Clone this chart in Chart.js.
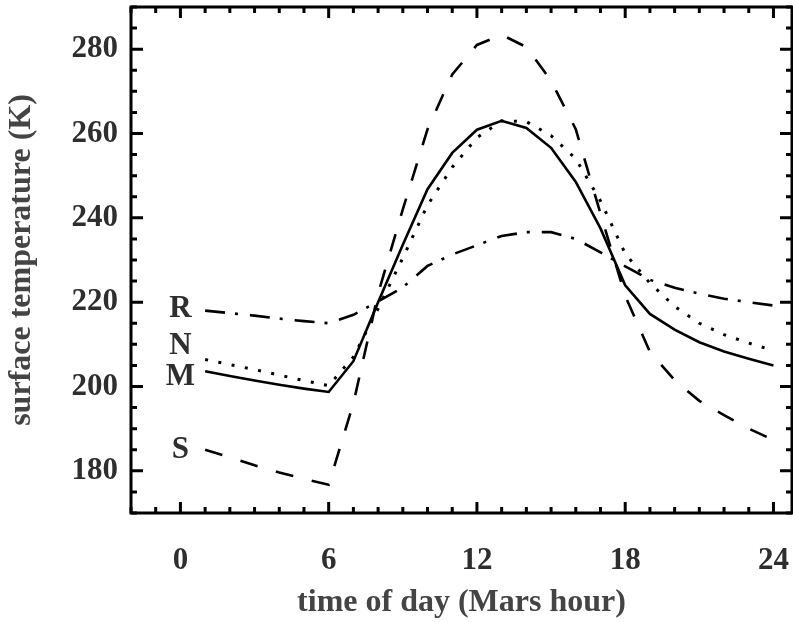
<!DOCTYPE html>
<html>
<head>
<meta charset="utf-8">
<script src="https://cdn.jsdelivr.net/npm/chart.js@4/dist/chart.umd.min.js"></script>
<style>
html,body{margin:0;padding:0;background:#fff;}
#wrap{width:793px;height:622px;position:relative;}
</style>
</head>
<body>
<div id="wrap"><canvas id="c" width="793" height="622"></canvas></div>
<script>
// ---- data ----
const hours = [1,2,3,4,5,6,7,8,9,10,11,12,13,14,15,16,17,18,19,20,21,22,23,24];
const seriesM = [203.6,202.5,201.4,200.4,199.5,198.7,206.0,220.0,233.6,246.8,255.4,260.9,263.0,261.3,256.6,248.5,237.5,224.0,217.2,213.5,210.5,208.3,206.6,205.0];
const seriesN = [206.4,205.2,204.0,202.7,201.4,200.2,207.0,218.5,230.5,243.0,252.0,259.0,263.0,262.8,259.5,254.0,244.0,231.5,224.5,219.0,215.0,212.3,210.3,208.5];
const seriesS = [185.0,183.2,181.3,179.6,178.1,176.7,196.0,222.0,242.0,261.0,274.0,281.0,283.4,280.5,272.5,261.0,241.0,221.5,208.2,201.5,196.6,193.2,190.0,187.3];
const seriesR = [218.0,217.4,216.8,216.1,215.5,215.0,217.0,220.2,223.5,228.6,231.3,233.5,235.7,236.6,236.6,235.0,231.8,228.5,225.3,223.4,222.0,220.8,220.0,219.2];
const seriesNames = ['M','N','S','R'];
const xTickLabels = [0,6,12,18,24];
const yTickLabels = [180,200,220,240,260,280];
// label anchors (hour, temperature) for the series letters
const letterAnchors = [
  {name:'R', x:0, y:218.6},
  {name:'N', x:0, y:209.9},
  {name:'M', x:0, y:202.6},
  {name:'S', x:0, y:185.3}
];

const FONT = '"Liberation Serif","Times New Roman",serif';
const TXT = '#2e2e2e';

function pts(arr){ return hours.map((h,i)=>({x:h,y:arr[i]})); }

const framePlugin = {
  id:'frame',
  afterDraw(chart){
    const ctx = chart.ctx, a = chart.chartArea;
    const xs = chart.scales.x, ys = chart.scales.y;
    ctx.save();
    ctx.strokeStyle = '#000';
    ctx.lineWidth = 3;
    ctx.lineCap = 'butt';
    ctx.strokeRect(a.left, a.top, a.right - a.left, a.bottom - a.top);
    ctx.beginPath();
    for (let v = Math.ceil(xs.min); v <= xs.max; v++) {
      const px = xs.getPixelForValue(v);
      const len = (v % 6 === 0) ? 11 : 6;
      ctx.moveTo(px, a.bottom); ctx.lineTo(px, a.bottom - len);
      ctx.moveTo(px, a.top); ctx.lineTo(px, a.top + len);
    }
    for (let v = Math.ceil(ys.min/5)*5; v <= ys.max; v += 5) {
      const py = ys.getPixelForValue(v);
      const len = (v % 20 === 0) ? 12 : 6;
      ctx.moveTo(a.left, py); ctx.lineTo(a.left + len, py);
      ctx.moveTo(a.right, py); ctx.lineTo(a.right - len, py);
    }
    ctx.stroke();
    // series letters
    ctx.fillStyle = TXT;
    ctx.font = 'bold 31px ' + FONT;
    ctx.textAlign = 'center';
    ctx.textBaseline = 'middle';
    letterAnchors.forEach(l => {
      ctx.fillText(l.name, xs.getPixelForValue(l.x), ys.getPixelForValue(l.y) + 1);
    });
    ctx.restore();
  }
};

new Chart(document.getElementById('c'), {
  type:'line',
  data:{
    datasets:[
      {label:seriesNames[0], data:pts(seriesM), borderColor:'#000', borderWidth:2.6, pointRadius:0, fill:false, tension:0},
      {label:seriesNames[1], data:pts(seriesN), borderColor:'#000', borderWidth:3, borderDash:[3,10.5], pointRadius:0, fill:false, tension:0},
      {label:seriesNames[2], data:pts(seriesS), borderColor:'#000', borderWidth:2.6, borderDash:[18,19], pointRadius:0, fill:false, tension:0},
      {label:seriesNames[3], data:pts(seriesR), borderColor:'#000', borderWidth:2.6, borderDash:[20,10,3,12], pointRadius:0, fill:false, tension:0}
    ]
  },
  options:{
    responsive:false,
    animation:false,
    events:[],
    layout:{padding:{left:0,right:1,top:7,bottom:0}},
    plugins:{legend:{display:false}, tooltip:{enabled:false}},
    scales:{
      x:{
        type:'linear', min:-2, max:24.75,
        afterBuildTicks(s){ s.ticks = xTickLabels.map(v=>({value:v})); },
        afterFit(s){ s.height = 109; s.paddingLeft = 0; s.paddingRight = 0; },
        grid:{display:false, drawTicks:false},
        border:{display:false},
        ticks:{
          autoSkip:false, maxRotation:0, padding:29,
          color:TXT, font:{family:FONT, size:31, weight:'bold'},
          callback:(v)=> String(v)
        },
        title:{display:true, text:'time of day (Mars hour)', color:'#444',
          font:{family:FONT, size:32, weight:'bold'}, padding:{top:1,bottom:0}}
      },
      y:{
        type:'linear', min:170, max:290,
        afterBuildTicks(s){ s.ticks = yTickLabels.map(v=>({value:v})); },
        afterFit(s){ s.width = 131; s.paddingTop = 0; s.paddingBottom = 0; },
        grid:{display:false, drawTicks:false},
        border:{display:false},
        ticks:{
          autoSkip:false, padding:13,
          color:TXT, font:{family:FONT, size:31, weight:'bold'},
          callback:(v)=> String(v)
        },
        title:{display:true, text:'surface temperature (K)', color:'#444',
          font:{family:FONT, size:32, weight:'bold'}, padding:{top:3,bottom:0}}
      }
    }
  },
  plugins:[framePlugin]
});
</script>
</body>
</html>
